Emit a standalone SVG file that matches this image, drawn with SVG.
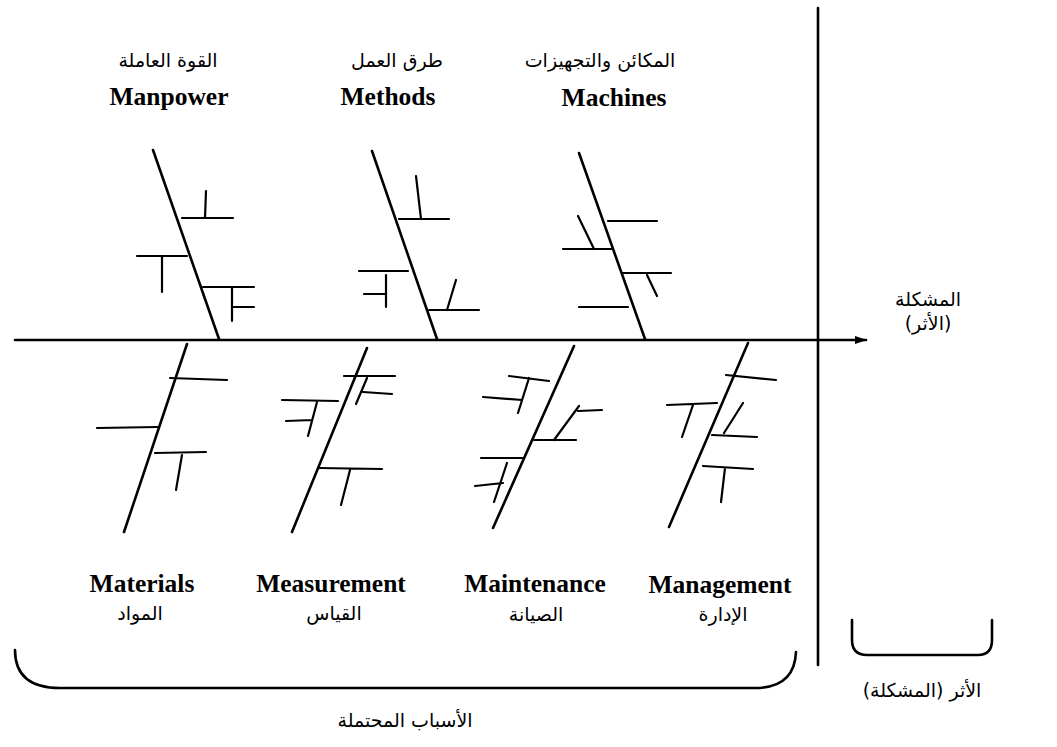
<svg xmlns="http://www.w3.org/2000/svg" width="1057" height="747" viewBox="0 0 1057 747">
<style>
.sp{stroke:#000;stroke-width:2.6;fill:none;stroke-linecap:round}
.rb{stroke:#000;stroke-width:2.2;fill:none;stroke-linecap:round}
.en{font-family:"Liberation Serif",serif;font-weight:bold;font-size:25.5px;fill:#000;text-anchor:middle}
.ar{font-family:"DejaVu Sans","Noto Sans",sans-serif;font-size:19px;fill:#000;text-anchor:middle;direction:rtl}
</style>
<defs>
<marker id="ah" markerWidth="12" markerHeight="8" refX="11" refY="4" orient="auto" markerUnits="userSpaceOnUse">
<path d="M0,0 L12,4 L0,8 Z" fill="#000"/>
</marker>
</defs>
<rect width="1057" height="747" fill="#fff"/>
<g id="connectors">
<line class="sp" x1="15" y1="340" x2="866" y2="340" marker-end="url(#ah)"/>
<line class="sp" x1="818" y1="8" x2="818" y2="665"/>
<path class="sp" d="M15,650 C15,675 30,688 60,688 L755,688 C782,688 795,675 796,652"/>
<path class="sp" d="M852,620 L852,640 Q852,655 867,655 L978,655 Q992,655 992,640 L992,620"/>
</g>
<g id="manpower">
<line class="sp" x1="153" y1="150" x2="219" y2="339"/>
<path class="rb" d="M182,218 H233 M206,191 L205,218 M137,256 H187 M162,256 V292 M203,287 H254 M232,287 V321 M232,307 H254"/>
<text class="ar" x="168" y="67">القوة العاملة</text>
<text class="en" x="169" y="105">Manpower</text>
</g>
<g id="methods">
<line class="sp" x1="372" y1="151" x2="437" y2="339"/>
<path class="rb" d="M399,219 H449 M416,176 L421,219 M359,271 H408 M386,275 V307 M364,294 H386 M429,310 H479 M456,280 L447,310"/>
<text class="ar" x="397" y="67">طرق العمل</text>
<text class="en" x="388" y="105">Methods</text>
</g>
<g id="machines">
<line class="sp" x1="579" y1="153" x2="645" y2="339"/>
<path class="rb" d="M608,221 H657 M563,249 H613 M578,216 L594,249 M623,273 H671 M647,275 L657,296 M579,307 H628"/>
<text class="ar" x="600" y="67">المكائن والتجهيزات</text>
<text class="en" x="614" y="106">Machines</text>
</g>
<g id="materials">
<line class="sp" x1="187" y1="344" x2="124" y2="532"/>
<path class="rb" d="M170,378 L227,380 M97,428 L158,427 M155,453 L206,452 M182,455 L176,490"/>
<text class="en" x="142" y="592">Materials</text>
<text class="ar" x="140" y="620">المواد</text>
</g>
<g id="measurement">
<line class="sp" x1="367" y1="348" x2="292" y2="532"/>
<path class="rb" d="M344,376 H395 M367,378 L356,404 M363,392 L392,394 M282,400 L338,401 M317,402 L308,436 M286,421 L312,420 M318,468 L382,469 M350,470 L341,505"/>
<text class="en" x="331" y="592">Measurement</text>
<text class="ar" x="334" y="620">القياس</text>
</g>
<g id="maintenance">
<line class="sp" x1="574" y1="346" x2="493" y2="528"/>
<path class="rb" d="M509,376 L549,381 M529,378 L518,413 M483,397 L522,400 M534,440 H576 M554,440 L579,406 M578,411 L602,410 M481,458 H523 M507,463 L494,502 M475,486 L503,483"/>
<text class="en" x="535" y="592">Maintenance</text>
<text class="ar" x="536" y="621">الصيانة</text>
</g>
<g id="management">
<line class="sp" x1="748" y1="343" x2="669" y2="527"/>
<path class="rb" d="M726,375 L776,380 M667,405 L717,403 M693,405 L682,437 M712,435 L757,437 M743,403 L724,433 M703,466 L753,469 M725,468 L721,502"/>
<text class="en" x="720" y="593">Management</text>
<text class="ar" x="723" y="621">الإدارة</text>
</g>
<g id="effect">
<text class="ar" x="928" y="306" font-size="21">المشكلة</text>
<text class="ar" x="928" y="330" font-size="21">(الأثر)</text>
<text class="ar" x="922" y="697">الأثر (المشكلة)</text>
</g>
<g id="causes">
<text class="ar" x="405" y="727">الأسباب المحتملة</text>
</g>
</svg>
